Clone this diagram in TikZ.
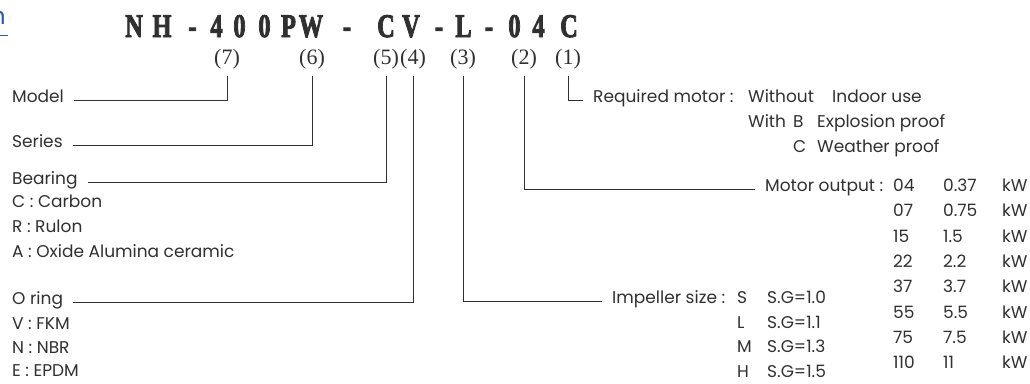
\documentclass[tikz,border=0pt]{standalone}
\usepackage{fontspec}
\setmainfont{Poppins}
\newfontfamily\codefont{Liberation Serif}
\newfontfamily\titlefont[FakeBold=3]{Liberation Serif Bold}
\usetikzlibrary{positioning}

\definecolor{linkblue}{HTML}{1F5FB4}
\definecolor{ink}{HTML}{303030}

\tikzset{
  lbl/.style={inner sep=5pt, text height=0.72em, text depth=0.22em,
    font=\fontsize{17}{19}\selectfont, text=ink},
  cell/.style={lbl, anchor=west, inner xsep=0pt},
  idx/.style={inner sep=1pt, font=\codefont\fontsize{22}{24}\selectfont, text=ink},
  ch/.style={anchor=base, inner sep=0pt, font=\titlefont\fontsize{33}{36}\selectfont, text=ink},
  lead/.style={draw=ink, line width=0.8pt, shorten >=5pt, shorten <=6pt},
}

\begin{document}
\begin{tikzpicture}[x=1pt, y=-1pt]
    \useasboundingbox (0,0) rectangle (1030,383);

    % cut-off heading at the left edge
    \node[anchor=east, inner sep=0pt, text=linkblue, font=\fontsize{24}{26}\selectfont] (head) at (6,18) {n};
    \draw[linkblue, line width=1pt] (head.south west |- 0,35) -- (8,35);

    % model code
    \foreach \c/\x [count=\i] in {N/134, H/162, -/192.5, 4/216.5, 0/239.5, 0/264.5, P/288.5, W/311,
        -/347, C/386, V/411, -/439, L/463.5, -/489, 0/514.5, 4/538.5, C/569}
        \node[ch] (t\i) at (\x,37) {\scalebox{0.74}[1]{\c}};

    \node[idx] (n7) at (227, 59) {(7)};
    \node[idx] (n6) at (312, 59) {(6)};
    \node[idx] (n5) at (386, 59) {(5)};
    \node[idx] (n4) at (413, 59) {(4)};
    \node[idx] (n3) at (463, 59) {(3)};
    \node[idx] (n2) at (524, 59) {(2)};
    \node[idx] (n1) at (568, 59) {(1)};

    % left side
    \node[lbl, anchor=west] (model) at (7, 100) {Model};
    \node[lbl, anchor=west] (series) at (7, 145) {Series};
    \node[lbl, anchor=west] (bearing) at (7, 182) {Bearing};
    \node[cell] (carbon) at (12, 205) {C : Carbon};
    \node[cell] (rulon) at (12, 230) {R : Rulon};
    \node[cell] (ceramic) at (12, 255) {A : Oxide Alumina ceramic};
    \node[lbl, anchor=west] (oring) at (7, 302) {O ring};
    \node[cell] (fkm) at (12, 327) {V : FKM};
    \node[cell] (nbr) at (12, 351) {N : NBR};
    \node[cell] (epdm) at (12, 374) {E : EPDM};

    % right side
    \node[lbl, anchor=west] (motor) at (588, 100) {Required motor :};
    \node[cell] at (748, 100) {Without};
    \node[cell] at (832, 100) {Indoor use};
    \node[cell] at (748, 125) {With};
    \node[cell] at (793, 125) {B};
    \node[cell] at (817, 125) {Explosion proof};
    \node[cell] at (793, 150) {C};
    \node[cell] at (817, 150) {Weather proof};

    \node[lbl, anchor=west] (output) at (760, 189) {Motor output :};
    \foreach \code/\kw [count=\i from 0] in {04/0.37, 07/0.75, 15/1.5, 22/2.2, 37/3.7, 55/5.5, 75/7.5, 110/11} {
        \node[cell] (code\i) at (893, 189+25.3*\i) {\code};
        \node[cell] (kw\i) at (943, 189+25.3*\i) {\kw};
        \node[cell] (unit\i) at (1002, 189+25.3*\i) {kW};
    }

    \node[lbl, anchor=west] (impeller) at (607, 301) {Impeller size :};
    \foreach \sz/\sg [count=\i from 0] in {S/1.0, L/1.1, M/1.3, H/1.5} {
        \node[cell] (size\i) at (737, 301+24.5*\i) {\sz};
        \node[cell] (sg\i) at (767, 301+24.5*\i) {S.G=\sg};
    }

    % leaders
    \draw[lead] (n7.south) |- (model.east);
    \draw[lead] (n6.south) |- (series.east);
    \draw[lead] (n5.south) |- (bearing.east);
    \draw[lead] (n4.south) |- (oring.east);
    \draw[lead] (n3.south) |- (impeller.west);
    \draw[lead] (n2.south) |- (output.west);
    \draw[lead] (n1.south) |- (motor.west);
\end{tikzpicture}
\end{document}
